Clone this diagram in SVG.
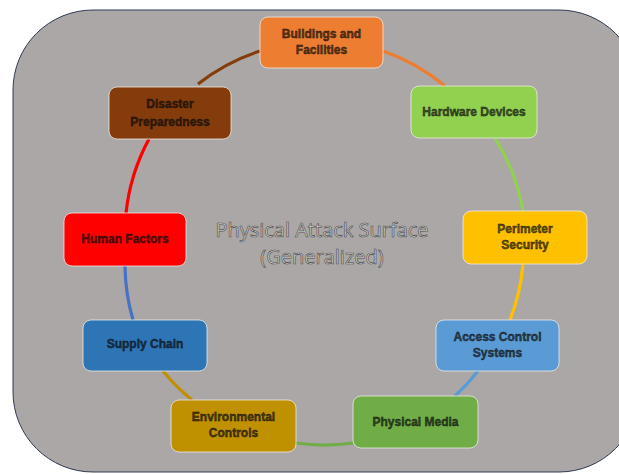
<svg xmlns="http://www.w3.org/2000/svg" width="619" height="474" viewBox="0 0 619 474">
<style>
.node rect{stroke:#f2efe9;stroke-opacity:0.75;stroke-width:1}
.lbl{font-family:"Liberation Sans",Arial,sans-serif;font-size:12px;font-weight:bold;text-anchor:middle;fill:#000000;fill-opacity:0.62;stroke:#141414;stroke-width:0.4}
.title{font-family:"Open Sans","Liberation Sans",sans-serif;font-size:20px;text-anchor:middle;fill:#cfcccb;stroke:#4a4a4a;stroke-width:0.6}
.conn path{fill:none;stroke-width:3.2}
</style>
<rect id="background" x="13" y="10" width="626" height="462" rx="80" ry="80" fill="#aba7a6" stroke="#2e3a52" stroke-width="1"/>
<g id="title">
<text class="title" x="322" y="237">Physical Attack Surface</text>
<text class="title" x="322" y="264">(Generalized)</text>
</g>
<g id="connectors" class="conn">
<path d="M198 84 A200 200 0 0 1 260 51" stroke="#843c0c"/>
<path d="M383 51 A200 200 0 0 1 445 86" stroke="#ed7d31"/>
<path d="M495 138 A200 200 0 0 1 523 211" stroke="#92d050"/>
<path d="M523 264 A200 200 0 0 1 510 320" stroke="#ffc000"/>
<path d="M478 371 A200 200 0 0 1 455 396" stroke="#5b9bd5"/>
<path d="M353 443 A200 200 0 0 1 296 443" stroke="#70ad47"/>
<path d="M192 400 A200 200 0 0 1 163 371" stroke="#bf9000"/>
<path d="M133 320 A200 200 0 0 1 125 266" stroke="#4472c4"/>
<path d="M126 213 A200 200 0 0 1 149 139" stroke="#ff0000"/>
</g>
<g id="buildings" class="node">
<rect x="260" y="17" width="123" height="51" rx="8" fill="#ed7d31"/>
<text class="lbl" x="321.5" y="38">Buildings and</text>
<text class="lbl" x="321.5" y="54">Facilities</text>
</g>
<g id="hardware" class="node">
<rect x="411" y="86" width="126" height="52" rx="8" fill="#92d050"/>
<text class="lbl" x="474" y="116">Hardware Devices</text>
</g>
<g id="perimeter" class="node">
<rect x="463" y="211" width="124" height="53" rx="8" fill="#ffc000"/>
<text class="lbl" x="525" y="233">Perimeter</text>
<text class="lbl" x="525" y="249">Security</text>
</g>
<g id="access" class="node">
<rect x="436" y="320" width="123" height="51" rx="8" fill="#5b9bd5"/>
<text class="lbl" x="497.5" y="341">Access Control</text>
<text class="lbl" x="497.5" y="357">Systems</text>
</g>
<g id="physical-media" class="node">
<rect x="353" y="396" width="125" height="52" rx="8" fill="#70ad47"/>
<text class="lbl" x="415.5" y="426">Physical Media</text>
</g>
<g id="environmental" class="node">
<rect x="171" y="400" width="125" height="52" rx="8" fill="#bf9000"/>
<text class="lbl" x="233.5" y="421">Environmental</text>
<text class="lbl" x="233.5" y="437">Controls</text>
</g>
<g id="supply-chain" class="node">
<rect x="83" y="320" width="124" height="51" rx="8" fill="#2e75b6"/>
<text class="lbl" x="145" y="348">Supply Chain</text>
</g>
<g id="human-factors" class="node">
<rect x="64" y="213" width="122" height="53" rx="8" fill="#ff0000"/>
<text class="lbl" x="125" y="243">Human Factors</text>
</g>
<g id="disaster" class="node">
<rect x="109" y="87" width="122" height="52" rx="8" fill="#843c0c"/>
<text class="lbl" x="170" y="108">Disaster</text>
<text class="lbl" x="170" y="126">Preparedness</text>
</g>
</svg>
